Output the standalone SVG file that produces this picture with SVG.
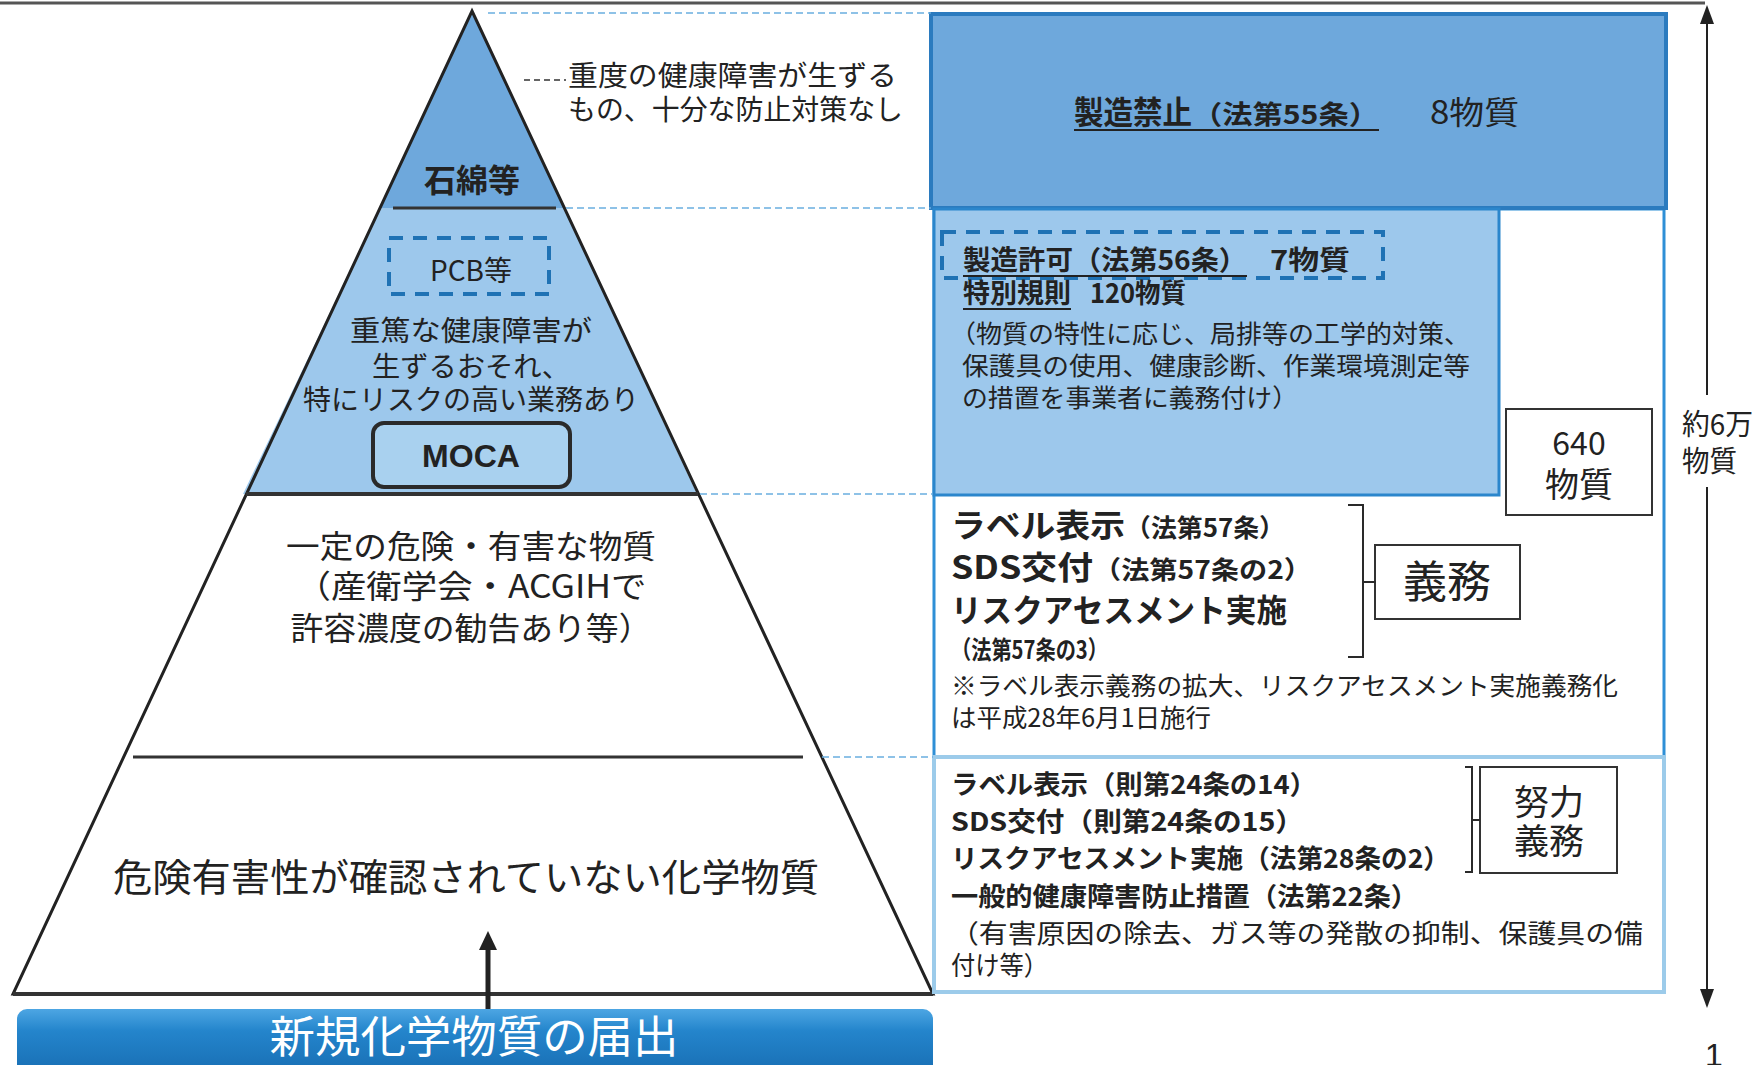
<svg xmlns="http://www.w3.org/2000/svg" width="1758" height="1065" viewBox="0 0 1758 1065">
<style>
text{font-family:"Noto Sans CJK JP","Noto Sans",sans-serif;fill:#222}
.b{font-weight:bold}
.c{text-anchor:middle}
.lead{stroke:#6AAEDF;stroke-width:1.5;stroke-dasharray:7 4;fill:none}
.blk{stroke:#2a2a2a;fill:none}
</style>
<defs>
<linearGradient id="bar" x1="0" y1="0" x2="0" y2="1">
<stop offset="0" stop-color="#4DA6E3"/>
<stop offset="0.3" stop-color="#2485CC"/>
<stop offset="1" stop-color="#166AAF"/>
</linearGradient>
</defs>
<rect width="1758" height="1065" fill="#fff"/>
<line x1="0" y1="3" x2="1705" y2="3" stroke="#555" stroke-width="3"/>

<g id="pyramid">
<polygon points="472,11 564,208 380,208" fill="#6EA8DC"/>
<polygon points="380,208 564,208 697,494 243,494" fill="#9DC8EC"/>
<polygon points="472,11 933,994 13,994" fill="none" stroke="#222" stroke-width="3"/>
<line x1="393" y1="208" x2="556" y2="208" stroke="#333" stroke-width="3"/>
<line x1="246" y1="494" x2="698" y2="494" stroke="#333" stroke-width="4"/>
<line x1="133" y1="757" x2="803" y2="757" stroke="#333" stroke-width="3"/>
<line x1="13" y1="994" x2="933" y2="994" stroke="#333" stroke-width="4"/>
</g>

<g id="tier-asbestos">
<text x="472" y="192" class="b c" font-size="32">石綿等</text>
</g>

<g id="tier-pcb">
<rect x="389" y="238" width="160" height="56" fill="none" stroke="#1F72B4" stroke-width="4" stroke-dasharray="14 10"/>
<text x="471" y="281" class="c" font-size="28">PCB等</text>
<text x="471" y="341" class="c" font-size="28" textLength="242" lengthAdjust="spacingAndGlyphs">重篤な健康障害が</text>
<text x="471" y="377" class="c" font-size="28" textLength="198" lengthAdjust="spacingAndGlyphs">生ずるおそれ、</text>
<text x="471" y="410" class="c" font-size="28" textLength="336" lengthAdjust="spacingAndGlyphs">特にリスクの高い業務あり</text>
</g>

<g id="moca">
<rect x="373" y="423" width="197" height="64" rx="11" fill="#A9D1EF" stroke="#2a2a2a" stroke-width="4"/>
<text x="471" y="467" class="b c" font-size="32" style="font-family:'Liberation Sans',Arial,sans-serif">MOCA</text>
</g>

<g id="tier-hazard">
<text x="471" y="558" class="c" font-size="32" textLength="370" lengthAdjust="spacingAndGlyphs">一定の危険・有害な物質</text>
<text x="471" y="598" class="c" font-size="32" textLength="351" lengthAdjust="spacingAndGlyphs">（産衛学会・ACGIHで</text>
<text x="471" y="640" class="c" font-size="32" textLength="361" lengthAdjust="spacingAndGlyphs">許容濃度の勧告あり等）</text>
</g>

<g id="tier-unknown">
<text x="466" y="891" class="c" font-size="38" textLength="706" lengthAdjust="spacingAndGlyphs">危険有害性が確認されていない化学物質</text>
</g>

<g id="new-notification">
<rect x="17" y="1009" width="916" height="72" rx="10" fill="url(#bar)"/>
<text x="474" y="1053" class="c" font-size="44" style="fill:#fff" textLength="409" lengthAdjust="spacingAndGlyphs">新規化学物質の届出</text>
</g>

<g id="annotation">
<line x1="524" y1="80" x2="566" y2="80" stroke="#333" stroke-width="1.5" stroke-dasharray="6 4"/>
<text x="568" y="86" font-size="28" textLength="329" lengthAdjust="spacingAndGlyphs">重度の健康障害が生ずる</text>
<text x="568" y="120" font-size="28" textLength="335" lengthAdjust="spacingAndGlyphs">もの、十分な防止対策なし</text>
</g>

<g id="box-mid-frame">
<rect x="934" y="209" width="730" height="548" fill="#fff" stroke="#2E8FD6" stroke-width="3"/>
</g>

<g id="box-ban">
<rect x="931" y="14" width="735" height="194" fill="#6EA8DC" stroke="#2B7BBF" stroke-width="4"/>
<text x="1074" y="124" class="b" font-size="32" textLength="118" lengthAdjust="spacingAndGlyphs">製造禁止</text>
<text x="1192" y="124" class="b" font-size="26" textLength="187" lengthAdjust="spacingAndGlyphs">（法第55条）</text>
<line x1="1074" y1="130" x2="1379" y2="130" stroke="#222" stroke-width="2"/>
<text x="1430" y="124" font-size="32" textLength="89" lengthAdjust="spacingAndGlyphs">8物質</text>
</g>

<g id="box-permit">
<rect x="934" y="209" width="565" height="286" fill="#9DC8EC" stroke="#2B86CC" stroke-width="3"/>
<rect x="942" y="232" width="441" height="46" fill="none" stroke="#1F72B4" stroke-width="4" stroke-dasharray="14 10"/>
<text x="963" y="270" class="b" font-size="27" textLength="110" lengthAdjust="spacingAndGlyphs">製造許可</text>
<text x="1073" y="270" class="b" font-size="27" textLength="174" lengthAdjust="spacingAndGlyphs">（法第56条）</text>
<line x1="963" y1="276" x2="1247" y2="276" stroke="#222" stroke-width="2"/>
<text x="1270" y="270" class="b" font-size="27" textLength="80" lengthAdjust="spacingAndGlyphs">7物質</text>
<text x="963" y="303" class="b" font-size="27" textLength="108" lengthAdjust="spacingAndGlyphs">特別規則</text>
<line x1="963" y1="309" x2="1071" y2="309" stroke="#222" stroke-width="2"/>
<text x="1090" y="303" class="b" font-size="27" textLength="96" lengthAdjust="spacingAndGlyphs">120物質</text>
<text x="950" y="343" font-size="25" textLength="520" lengthAdjust="spacingAndGlyphs">（物質の特性に応じ、局排等の工学的対策、</text>
<text x="962" y="375" font-size="25" textLength="508" lengthAdjust="spacingAndGlyphs">保護具の使用、健康診断、作業環境測定等</text>
<text x="962" y="407" font-size="25" textLength="336" lengthAdjust="spacingAndGlyphs">の措置を事業者に義務付け）</text>
</g>

<g id="box-640">
<rect x="1506" y="409" width="146" height="106" fill="#fff" stroke="#333" stroke-width="2"/>
<text x="1579" y="455" class="c" font-size="32">640</text>
<text x="1579" y="497" class="c" font-size="34">物質</text>
</g>

<g id="box-duty">
<text x="951" y="537"><tspan class="b" font-size="32" textLength="174" lengthAdjust="spacingAndGlyphs">ラベル表示</tspan><tspan x="1125" class="b" font-size="25" textLength="160" lengthAdjust="spacingAndGlyphs">（法第57条）</tspan></text>
<text x="951" y="579"><tspan class="b" font-size="32" textLength="142" lengthAdjust="spacingAndGlyphs">SDS交付</tspan><tspan x="1093" class="b" font-size="25" textLength="219" lengthAdjust="spacingAndGlyphs">（法第57条の2）</tspan></text>
<text x="951" y="622" class="b" font-size="32" textLength="336" lengthAdjust="spacingAndGlyphs">リスクアセスメント実施</text>
<text x="951" y="659" class="b" font-size="25" textLength="157" lengthAdjust="spacingAndGlyphs">（法第57条の3）</text>
<text x="951" y="695" font-size="25" textLength="667" lengthAdjust="spacingAndGlyphs">※ラベル表示義務の拡大、リスクアセスメント実施義務化</text>
<text x="951" y="727" font-size="25" textLength="260" lengthAdjust="spacingAndGlyphs">は平成28年6月1日施行</text>
</g>

<g id="label-duty">
<rect x="1375" y="545" width="145" height="74" fill="#fff" stroke="#333" stroke-width="2"/>
<text x="1447" y="598" class="c" font-size="44">義務</text>
</g>

<g id="box-effort">
<rect x="934" y="757" width="730" height="235" fill="#fff" stroke="#9CCBEA" stroke-width="4"/>
<text x="951" y="794" class="b" font-size="26" textLength="366" lengthAdjust="spacingAndGlyphs">ラベル表示（則第24条の14）</text>
<text x="951" y="831" class="b" font-size="26" textLength="353" lengthAdjust="spacingAndGlyphs">SDS交付（則第24条の15）</text>
<text x="951" y="868" class="b" font-size="26" textLength="499" lengthAdjust="spacingAndGlyphs">リスクアセスメント実施（法第28条の2）</text>
<text x="951" y="906" class="b" font-size="26" textLength="467" lengthAdjust="spacingAndGlyphs">一般的健康障害防止措置（法第22条）</text>
<text x="950" y="943" font-size="26" textLength="693" lengthAdjust="spacingAndGlyphs">（有害原因の除去、ガス等の発散の抑制、保護具の備</text>
<text x="951" y="975" font-size="26" textLength="97" lengthAdjust="spacingAndGlyphs">付け等）</text>
</g>

<g id="label-effort">
<rect x="1480" y="767" width="137" height="106" fill="#fff" stroke="#333" stroke-width="2"/>
<text x="1549" y="815" class="c" font-size="35">努力</text>
<text x="1549" y="854" class="c" font-size="35">義務</text>
</g>

<g id="total-label">
<text x="1682" y="435" font-size="29" textLength="71" lengthAdjust="spacingAndGlyphs">約6万</text>
<text x="1682" y="472" font-size="29" textLength="55" lengthAdjust="spacingAndGlyphs">物質</text>
</g>

<g id="page-number">
<text x="1714" y="1066" class="c" font-size="32" style="font-family:'Liberation Sans',Arial,sans-serif">1</text>
</g>

<g id="connectors">
<line class="lead" x1="488" y1="13" x2="931" y2="13"/>
<line class="lead" x1="566" y1="208" x2="931" y2="208"/>
<line class="lead" x1="700" y1="494" x2="932" y2="494"/>
<line class="lead" x1="822" y1="757" x2="933" y2="757"/>
<line x1="488" y1="1009" x2="488" y2="946" stroke="#222" stroke-width="5"/>
<polygon points="488,931 479,950 497,950" fill="#222"/>
<path class="blk" stroke-width="2" d="M1348,505 H1363 V657 H1348 M1363,582 H1376"/>
<path class="blk" stroke-width="2" d="M1465,767 H1472 V872 H1465 M1472,820 H1480"/>
<line x1="1707" y1="20" x2="1707" y2="395" stroke="#222" stroke-width="2"/>
<line x1="1707" y1="487" x2="1707" y2="994" stroke="#222" stroke-width="2"/>
<polygon points="1707,5 1700,24 1714,24" fill="#222"/>
<polygon points="1707,1008 1700,989 1714,989" fill="#222"/>
</g>
</svg>
